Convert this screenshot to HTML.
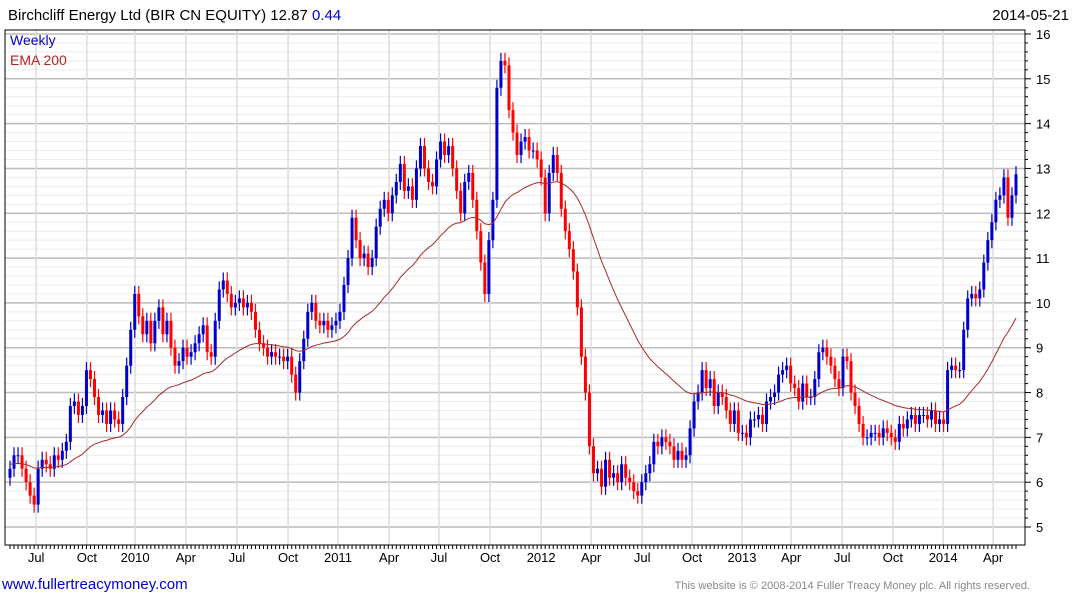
<!DOCTYPE html>
<html><head><meta charset="utf-8"><style>
body{margin:0;background:#fff;font-family:"Liberation Sans",sans-serif;}
#c{position:absolute;left:0;top:0;width:1075px;height:600px;}
</style></head><body>
<svg id="c" width="1075" height="600">
<text x="8" y="20" font-size="15" fill="#000">Birchcliff Energy Ltd (BIR CN EQUITY) 12.87 <tspan fill="#0000cc">0.44</tspan></text>
<text x="1069" y="20" font-size="15" text-anchor="end" fill="#000">2014-05-21</text>
<g id="grid"></g>
<g id="marks"></g>
<path id="ema" fill="none" stroke="#a52a2a" stroke-width="1"/>
<rect x="5" y="30" width="1020" height="515" fill="none" stroke="#000" stroke-width="1"/>
<text x="10" y="45" font-size="14" fill="#0000cc">Weekly</text>
<text x="10" y="65" font-size="14" fill="#b22222">EMA 200</text>
<g id="axes"></g>
<text x="2" y="589" font-size="15" fill="#0000cc">www.fullertreacymoney.com</text>
<text x="1030" y="589" font-size="11" fill="#888" text-anchor="end">This website is © 2008-2014 Fuller Treacy Money plc. All rights reserved.</text>
</svg>
<script>
const closes=[6.3,6.6,6.6,6.3,6.0,5.7,5.5,6.3,6.5,6.4,6.3,6.6,6.5,6.7,6.9,7.7,7.8,7.5,7.7,8.5,8.3,7.9,7.5,7.6,7.3,7.6,7.4,7.3,7.9,8.6,9.4,10.2,9.7,9.3,9.6,9.1,9.6,9.9,9.3,9.6,9.0,8.6,8.7,9.0,8.8,8.9,9.1,9.3,9.5,8.9,8.8,9.6,10.3,10.5,10.2,9.9,10.0,10.1,9.9,10.0,9.8,9.4,9.1,9.0,8.8,8.9,8.8,8.8,8.7,8.8,8.4,8.0,8.7,9.2,9.8,10.0,9.6,9.5,9.6,9.4,9.5,9.6,9.8,10.4,11.0,11.9,11.4,11.0,11.1,10.8,11.0,11.7,12.1,12.3,12.0,12.4,12.7,13.1,12.5,12.6,12.3,13.0,13.5,13.0,12.7,12.6,13.2,13.6,13.3,13.5,13.0,12.5,12.0,12.7,12.9,12.3,11.6,10.9,10.2,11.4,12.3,14.8,
15.4,15.3,14.3,13.8,13.3,13.6,13.7,13.4,13.4,13.2,12.8,12.0,12.9,13.3,12.9,12.1,11.6,11.2,10.7,9.9,8.8,8.0,6.8,6.2,6.3,5.9,6.5,6.1,6.2,6.0,6.4,6.1,6.0,5.8,5.7,6.0,6.2,6.4,6.9,6.8,7.0,6.9,6.8,6.5,6.7,6.5,6.6,7.2,7.8,8.0,8.5,8.1,8.3,7.7,8.0,7.9,7.6,7.3,7.6,7.1,7.1,7.0,7.4,7.4,7.5,7.3,7.8,7.9,8.0,8.4,8.5,8.6,8.2,8.1,7.8,8.2,7.9,7.9,8.3,8.9,9.0,8.8,8.6,8.3,8.1,8.8,8.7,8.0,7.7,7.3,7.0,7.0,7.1,7.1,7.0,7.2,7.1,7.0,6.9,7.3,7.2,7.4,7.5,7.3,7.5,7.5,7.4,7.6,7.3,7.4,7.3,8.5,8.6,8.5,8.5,9.4,10.1,10.2,10.1,10.3,10.9,11.4,11.8,12.3,12.4,12.8,11.9,12.4,12.87];
const firstOpen=6.1;
const emaSeed=6.4;
const yTicks=[5,6,7,8,9,10,11,12,13,14,15,16];
const xTickLabels=["Jul","Oct","2010","Apr","Jul","Oct","2011","Apr","Jul","Oct","2012","Apr","Jul","Oct","2013","Apr","Jul","Oct","2014","Apr"];
const xTickWeeks=[7,19.6,31.6,44.2,56.9,69.6,82,94.7,107.1,119.8,132.5,144.9,157.6,170,182.4,194.6,207.3,219.9,232.4,244.8];
const NS="http://www.w3.org/2000/svg";
const X0=10,X1=1016,N=closes.length;
function xs(i){return X0+i*(X1-X0)/(N-1);}
function xw(w){return X0+(w-0.5)*(X1-X0)/(N-1);}
function ys(v){return 527-(v-5)*44.82;}
function mk(t,a,p){const e=document.createElementNS(NS,t);for(const k in a)e.setAttribute(k,a[k]);p.appendChild(e);return e;}
const grid=document.getElementById('grid'),marks=document.getElementById('marks'),axes=document.getElementById('axes');
for(let v=5;v<=16.0001;v+=0.2){const y=ys(v);const maj=Math.abs(v-Math.round(v))<0.01;
 const l=mk('line',{x1:5,x2:1025,y1:y,y2:y,stroke:maj?'#bcbcbc':'#ececec','stroke-width':maj?1.5:1},grid);
 
 
 const t=mk('line',{x1:1025,x2:maj?1031:1028,y1:y,y2:y,stroke:'#000'},axes);
 
 }
yTicks.forEach(v=>{const t=mk('text',{x:1036,y:ys(v)+5,'font-size':13,fill:'#000'},axes);t.textContent=v;
 
 });
xTickWeeks.forEach((w,k)=>{const x=xw(w);
 const l=mk('line',{x1:x,x2:x,y1:30,y2:545,stroke:'#dcdcdc','stroke-width':1.5},grid);
 
 
 const t=mk('text',{x:x,y:562,'font-size':13,'text-anchor':'middle',fill:'#000'},axes);t.textContent=xTickLabels[k];
 
 });
for(let i=0;i<N;i++){const x=xs(i);const tk=mk('line',{x1:x,x2:x,y1:545,y2:549,stroke:'#000'},axes);
 
 }
let ema=emaSeed,d='';const a=2/41;
for(let i=0;i<N;i++){
 const o=i?closes[i-1]:firstOpen,c=closes[i];const up=c>=o;const col=up?'#0000cc':'#ff0000';
 const hi=Math.max(o,c)+0.18,lo=Math.min(o,c)-0.18;const x=xs(i);
 const w=mk('line',{x1:x,x2:x,y1:ys(hi),y2:ys(lo),stroke:col,'stroke-width':1.2},marks);
 
 
 const top=ys(Math.max(o,c)),h=Math.max(1,ys(Math.min(o,c))-top);
 const b=mk('rect',{x:x-1.5,y:top,width:3,height:h,fill:col},marks);
 
 
 ema=i?ema+a*(c-ema):emaSeed;d+=(i?'L':'M')+x.toFixed(1)+' '+ys(ema).toFixed(1);}
document.getElementById('ema').setAttribute('d',d);
</script>
</body></html>
